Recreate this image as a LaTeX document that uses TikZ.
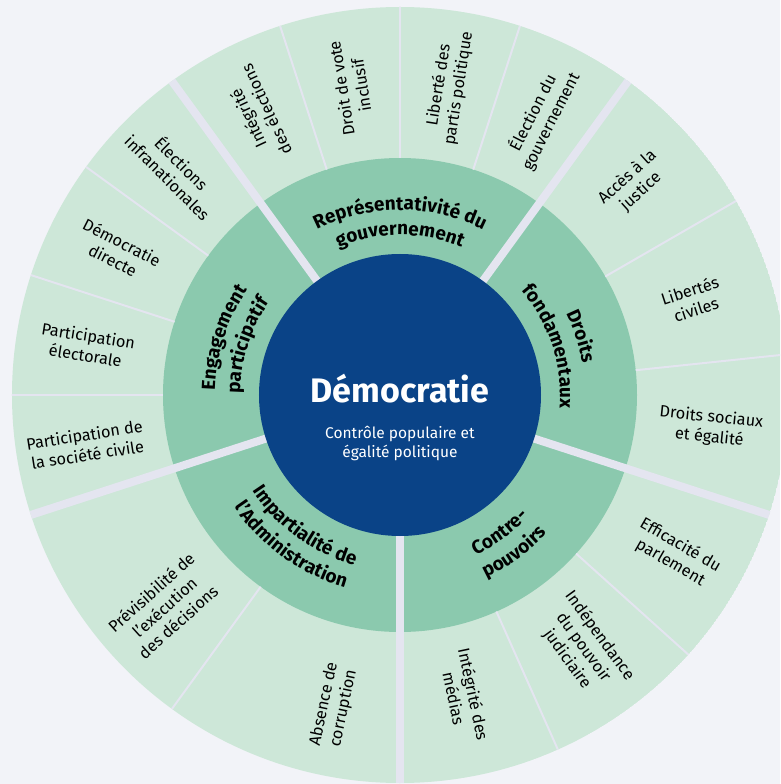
\documentclass[tikz,border=0pt]{standalone}
\usepackage{fontspec}
\setmainfont{Fira Sans}
\usetikzlibrary{decorations.text}
\definecolor{bgc}{HTML}{F2F3F8}
\definecolor{outerc}{HTML}{CDE7D8}
\definecolor{midc}{HTML}{8BC9AE}
\definecolor{innerc}{HTML}{0A4387}
\definecolor{sepc}{HTML}{E4E5F0}
\newcommand\midfont{\bfseries\fontsize{19}{23}\selectfont}
\newcommand\arclabel[4]{%
  \path[decorate, decoration={text along path, text align=center, text={|\midfont|#4}}]
    (#1:#3) arc[start angle=#1, end angle=#2, radius=#3];}
\tikzset{
  outerlbl/.style={align=center, font=\fontsize{16.3}{20}\selectfont, text=black, inner sep=0pt},
  thinsep/.style={draw=sepc, line width=2pt},
  thicksep/.style={draw=sepc, line width=8pt}
}
\begin{document}
\begin{tikzpicture}
\useasboundingbox (-400pt,-389pt) rectangle (380pt,395pt);
\fill[bgc] (-400pt,-389pt) rectangle (380pt,395pt);
\begin{scope}
  \clip (-400pt,-389pt) rectangle (380pt,395pt);
  \clip (0,0) circle[radius=388pt];
  \fill[outerc] (0,0) circle[radius=388pt];
  \fill[midc] (0,0) circle[radius=237pt];
  \foreach \a in {72,90,108,30,6,-42,-66,-126,144,162,180}
    \draw[thinsep] (\a:237pt) -- (\a:392pt);
  \foreach \a in {54,-18,-90,-162,126}
    \draw[thicksep] (\a:130pt) -- (\a:392pt);
\end{scope}
\fill[innerc] (0,0) circle[radius=141pt];
% centre
\node[anchor=base, text=white, font=\bfseries\fontsize{34}{40}\selectfont] (titre) at (0,-8pt) {Démocratie};
\node[anchor=base, text=white, font=\fontsize{15.5}{19}\selectfont] (sous1) at (0,-44pt) {Contrôle populaire et};
\node[anchor=base, text=white, font=\fontsize{15.5}{19}\selectfont] (sous2) at (0,-63pt) {égalité politique};
% middle ring
\arclabel{126}{54}{185pt}{Représentativité du}
\arclabel{126}{54}{160pt}{gouvernement}
\arclabel{54}{-18}{185pt}{Droits}
\arclabel{54}{-18}{160pt}{fondamentaux}
\arclabel{198}{126}{185pt}{Engagement}
\arclabel{198}{126}{160pt}{participatif}
\arclabel{-90}{-18}{177pt}{Contre-}
\arclabel{-90}{-18}{202pt}{pouvoirs}
\arclabel{-162}{-90}{176pt}{Impartialité de}
\arclabel{-162}{-90}{200pt}{l'Administration}
% outer ring
\node[outerlbl, rotate=115] (o1) at (117:315pt) {Intégrité\\des élections};
\node[outerlbl, rotate=99] (o2) at (99:312pt) {Droit de vote\\inclusif};
\node[outerlbl, rotate=81] (o3) at (81:312pt) {Liberté des\\partis politique};
\node[outerlbl, rotate=63] (o4) at (63:312pt) {Élection du\\gouvernement};
\node[outerlbl, rotate=42] (o5) at (42:315pt) {Accès à la\\justice};
\node[outerlbl, rotate=18] (o6) at (18:308pt) {Libertés\\civiles};
\node[outerlbl, rotate=-6] (o7) at (-6:312pt) {Droits sociaux\\et égalité};
\node[outerlbl, rotate=-30] (o8) at (-30:318pt) {Efficacité du\\parlement};
\node[outerlbl, rotate=-54] (o9) at (-54:312pt) {Indépendance\\du pouvoir\\judiciaire};
\node[outerlbl, rotate=-78] (o10) at (-78:308pt) {Intégrité des\\médias};
\node[outerlbl, rotate=78] (o11) at (-102:318pt) {Absence de\\corruption};
\node[outerlbl, rotate=42] (o12) at (-138:317pt) {Prévisibilité de\\l'exécution\\des décisions};
\node[outerlbl, rotate=9] (o13) at (189:318pt) {Participation de\\la société civile};
\node[outerlbl, rotate=-9] (o14) at (171:317pt) {Participation\\électorale};
\node[outerlbl, rotate=-27] (o15) at (153:317pt) {Démocratie\\directe};
\node[outerlbl, rotate=-45] (o16) at (135:318pt) {Élections\\infranationales};
\end{tikzpicture}
\end{document}
